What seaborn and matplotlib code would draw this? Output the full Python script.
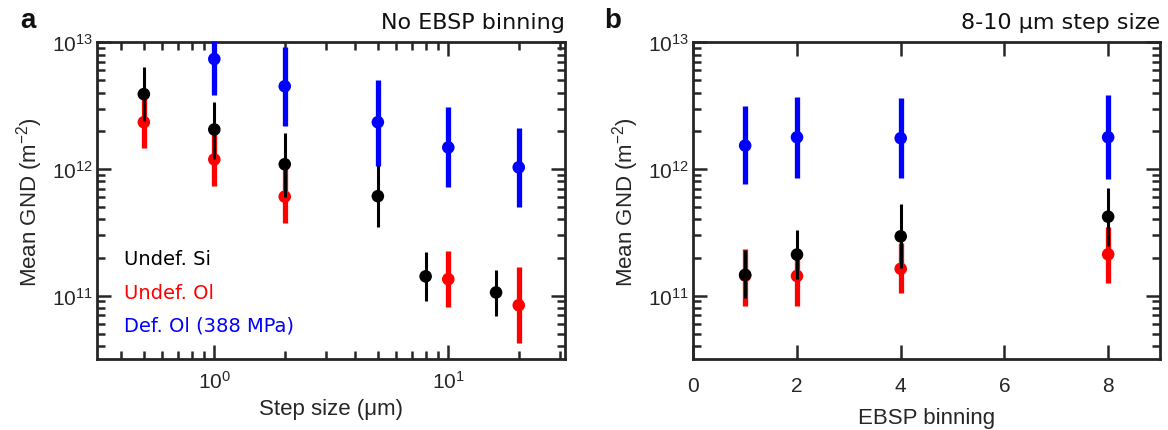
import numpy as np
import pandas as pd
import matplotlib
matplotlib.use("Agg")
import matplotlib.pyplot as plt
import matplotlib.ticker as mticker
import seaborn as sns

# ---- Panel a: mean GND density vs step size (no EBSP binning) ----
step_si = [0.5, 1, 2, 5, 8, 16]
gnd_si = [3.9e12, 2.05e12, 1.09e12, 6.1e11, 1.42e11, 1.06e11]
lo_si = [2.4e12, 1.2e12, 6.0e11, 3.46e11, 9.0e10, 6.9e10]
hi_si = [6.35e12, 3.36e12, 1.91e12, 1.2e12, 2.2e11, 1.6e11]

step_ol = [0.5, 1, 2, 10, 20]
gnd_ol = [2.34e12, 1.19e12, 6.05e11, 1.35e11, 8.4e10]
lo_ol = [1.46e12, 7.4e11, 3.75e11, 8.1e10, 4.2e10]
hi_ol = [3.8e12, 2.0e12, 1.05e12, 2.26e11, 1.67e11]

step_def = [1, 2, 5, 10, 20]
gnd_def = [7.38e12, 4.5e12, 2.34e12, 1.48e12, 1.03e12]
lo_def = [3.86e12, 2.2e12, 1.06e12, 7.17e11, 5.04e11]
hi_def = [1.02e13, 9.25e12, 5.04e12, 3.07e12, 2.11e12]

# ---- Panel b: mean GND density vs EBSP binning (8-10 um step size) ----
binning = [1, 2, 4, 8]
bgnd_si = [1.46e11, 2.11e11, 2.94e11, 4.2e11]
blo_si = [9.5e10, 1.35e11, 1.65e11, 2.48e11]
bhi_si = [2.31e11, 3.32e11, 5.3e11, 7.03e11]

bgnd_ol = [1.44e11, 1.43e11, 1.63e11, 2.12e11]
blo_ol = [8.3e10, 8.3e10, 1.05e11, 1.27e11]
bhi_ol = [2.33e11, 2.35e11, 2.6e11, 3.5e11]

bgnd_def = [1.53e12, 1.78e12, 1.75e12, 1.78e12]
blo_def = [7.57e11, 8.55e11, 8.43e11, 8.34e11]
bhi_def = [3.12e12, 3.72e12, 3.61e12, 3.84e12]

series_names = ["Undef. Si", "Undef. Ol", "Def. Ol (388 MPa)"]
series_colors = ["#000000", "#ff0000", "#0000ff"]

sns.set_theme(style="ticks")
plt.rcParams["font.family"] = ["Liberation Sans", "DejaVu Sans"]
plt.rcParams["mathtext.fontset"] = "custom"
plt.rcParams["mathtext.rm"] = "Liberation Sans"
plt.rcParams["mathtext.it"] = "Liberation Sans:italic"

SPINE = "#262626"

fig = plt.figure(figsize=(11.68, 4.31), dpi=100)
W, H = 1168, 431
ax_a = fig.add_axes([97.3 / W, (H - 360) / H, 468 / W, 316.7 / H])
ax_b = fig.add_axes([693.3 / W, (H - 360) / H, 466.7 / W, 316.7 / H])


def frame(x, y, lo, hi, name):
    return pd.DataFrame({"x": x, "y": y, "lo": lo, "hi": hi, "series": name})


def draw_series(ax, df, color, lw, z):
    ax.vlines(df["x"], df["lo"], df["hi"], color=color, linewidth=lw,
              zorder=z, clip_on=False)
    sns.scatterplot(data=df, x="x", y="y", color=color, s=82, marker="o",
                    edgecolor="none", linewidth=0, legend=False, ax=ax,
                    zorder=z + 0.5, clip_on=False)


def style_axis(ax):
    for sp in ax.spines.values():
        sp.set_visible(True)
        sp.set_color(SPINE)
        sp.set_linewidth(2.0)
    ax.tick_params(which="both", direction="in", top=True, right=True,
                   color=SPINE, labelcolor="#262626", width=1.8)
    ax.tick_params(which="major", length=10, labelsize=15, pad=3)
    ax.tick_params(which="minor", length=5.5)
    ax.set_yscale("log")
    ax.set_ylim(10 ** 10.5, 1e13)
    ax.yaxis.set_major_locator(mticker.LogLocator(base=10, numticks=10))
    ax.yaxis.set_minor_locator(mticker.LogLocator(base=10, subs=np.arange(2, 10), numticks=10))
    ax.yaxis.set_minor_formatter(mticker.NullFormatter())
    ax.set_ylabel("Mean GND (m$^{-2}$)", fontsize=16, color="#262626", labelpad=5)
    ax.grid(False)


# Panel a
data_a = [
    frame(step_ol, gnd_ol, lo_ol, hi_ol, series_names[1]),
    frame(step_si, gnd_si, lo_si, hi_si, series_names[0]),
    frame(step_def, gnd_def, lo_def, hi_def, series_names[2]),
]
cols_a = [series_colors[1], series_colors[0], series_colors[2]]
widths = [3.8, 2.2, 3.8]
for i, (df, c, lw) in enumerate(zip(data_a, cols_a, widths)):
    draw_series(ax_a, df, c, lw, 3 + 2 * i)

style_axis(ax_a)
ax_a.set_xscale("log")
ax_a.set_xlim(10 ** -0.5, 10 ** 1.5)
ax_a.xaxis.set_minor_locator(mticker.LogLocator(base=10, subs=np.arange(2, 10), numticks=10))
ax_a.xaxis.set_minor_formatter(mticker.NullFormatter())
ax_a.tick_params(axis="x", which="major", pad=8)
ax_a.set_xlabel("Step size (μm)", fontsize=16, color="#262626", labelpad=4)

for k, (name, c) in enumerate(zip(series_names, series_colors)):
    ax_a.text(0.057, 0.316 - 0.105 * k, name, color=c, fontsize=14,
              family="DejaVu Sans", ha="left", va="center",
              transform=ax_a.transAxes)

# Panel b
data_b = [
    frame(binning, bgnd_ol, blo_ol, bhi_ol, series_names[1]),
    frame(binning, bgnd_si, blo_si, bhi_si, series_names[0]),
    frame(binning, bgnd_def, blo_def, bhi_def, series_names[2]),
]
for i, (df, c, lw) in enumerate(zip(data_b, cols_a, widths)):
    draw_series(ax_b, df, c, lw, 3 + 2 * i)

style_axis(ax_b)
ax_b.set_xlim(0, 9)
ax_b.set_xticks([0, 2, 4, 6, 8])
ax_b.tick_params(axis="x", which="major", pad=12)
ax_b.set_xlabel("EBSP binning", fontsize=16, color="#262626", labelpad=9)

# Panel headings
for ax, letter, title in [(ax_a, "a", "No EBSP binning"),
                          (ax_b, "b", "8-10 μm step size")]:
    ax.text(1.0, 1.045, title, fontsize=16, family="DejaVu Sans",
            ha="right", va="baseline", transform=ax.transAxes, color="#111111")

fig.text(20 / W, 1 - 28 / H, "a", fontsize=20, fontweight="bold",
         ha="left", va="baseline", color="#111111")
fig.text(604 / W, 1 - 28 / H, "b", fontsize=20, fontweight="bold",
         ha="left", va="baseline", color="#111111")

fig.savefig("out.png", dpi=100, facecolor="white")
